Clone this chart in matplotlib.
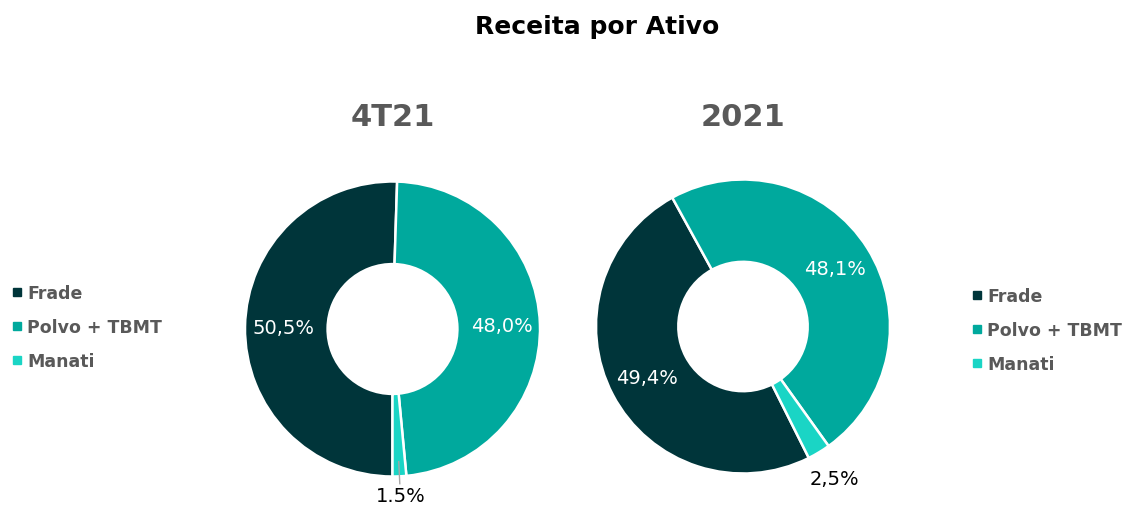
import numpy as np
import matplotlib.pyplot as plt
from matplotlib.lines import Line2D

plt.rcParams['font.family'] = ['DejaVu Sans']

# dados
ativos = ['Frade', 'Polvo + TBMT', 'Manati']
cores = ['#00353A', '#00A99D', '#1AD5C5']
rec_4t21 = [50.5, 48.0, 1.5]
rec_2021 = [49.4, 48.1, 2.5]
rotulos_4t21 = ['50,5%', '48,0%', '1.5%']
rotulos_2021 = ['49,4%', '48,1%', '2,5%']

W, H = 1125, 506
fig = plt.figure(figsize=(W / 100, H / 100), dpi=100)

LIM = 1.3


def donut(cx, cy, r, valores, rotulos, titulo, start, guia=False):
    # eixo quadrado centrado em (cx, cy) px, raio r px
    half = r * LIM
    ax = fig.add_axes([(cx - half) / W, (H - cy - half) / H, 2 * half / W, 2 * half / H])
    wedges, _ = ax.pie(valores, colors=cores, startangle=start, counterclock=False,
                       radius=1, wedgeprops=dict(width=0.56, edgecolor='white', linewidth=1.8))
    ax.set_xlim(-LIM, LIM)
    ax.set_ylim(-LIM, LIM)
    ax.set_aspect('equal')
    ax.axis('off')
    for i, (w, txt) in enumerate(zip(wedges, rotulos)):
        ang = np.deg2rad((w.theta1 + w.theta2) / 2)
        if i < 2:
            d, cor = 0.74, 'white'
        else:
            d, cor = (1.13 if guia else 1.21), 'black'
        ax.text(d * np.cos(ang), d * np.sin(ang), txt, ha='center', va='center',
                color=cor, fontsize=14, clip_on=False)
        if i == 2 and guia:
            ax.plot([0.9 * np.cos(ang), 1.05 * np.cos(ang)],
                    [0.9 * np.sin(ang), 1.05 * np.sin(ang)],
                    color='#A6A6A6', linewidth=1, clip_on=False)
    fig.text(cx / W, 1 - 118 / H, titulo, ha='center', va='center',
             fontsize=22, fontweight='bold', color='#595959')


donut(392.5, 330, 147.5, rec_4t21, rotulos_4t21, '4T21', -90, guia=True)
donut(743, 327.5, 147, rec_2021, rotulos_2021, '2021', -63.4)

fig.text(597 / W, 1 - 27 / H, 'Receita por Ativo', ha='center', va='center',
         fontsize=18, fontweight='bold', color='black')

# legendas
handles = [Line2D([0], [0], marker='s', color='w', markerfacecolor=c, markeredgecolor=c,
                  markersize=6, label=a) for a, c in zip(ativos, cores)]
for x, y in [(10, 328), (970, 331)]:
    leg = fig.legend(handles=handles, loc='center left', bbox_to_anchor=(x / W, 1 - y / H),
                     frameon=False, handletextpad=0.2, handlelength=0.8, labelspacing=0.9,
                     borderpad=0, borderaxespad=0, prop=dict(size=12.5, weight='bold'))
    for t in leg.get_texts():
        t.set_color('#595959')

plt.savefig('out.png', dpi=100)
